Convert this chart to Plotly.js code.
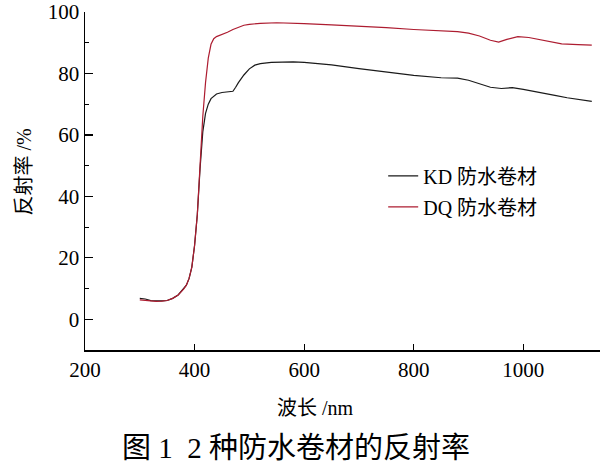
<!DOCTYPE html>
<html>
<head>
<meta charset="utf-8">
<script src="https://cdn.plot.ly/plotly-3.0.1.min.js"></script>
<style>html,body{margin:0;padding:0;background:#fff;}#chart{width:600px;height:464px;}</style>
</head>
<body>
<div id="chart"></div>
<script>
// Wavelength (nm) and reflectance (%)
const kdWavelength = [300,310,320,330,340,350,360,370,380,385,390,395,400,405,410,415,420,425,430,440,450,460,470,475,480,490,500,510,520,540,560,580,600,650,700,750,800,850,880,900,920,940,960,980,1000,1020,1040,1060,1080,1100,1125];
const kdReflect    = [6.8,6.6,6.1,6.0,6.0,6.1,6.8,7.9,9.8,11.1,13.3,17,24,34,49,61,67,70,71.8,73.3,73.8,74,74.2,75.5,77,79.5,81.5,82.7,83.2,83.6,83.8,83.8,83.6,82.8,81.6,80.4,79.4,78.6,78.5,77.8,76.6,75.5,75.1,75.4,74.8,74.2,73.5,72.8,72.1,71.5,70.9];

const dqWavelength = [300,310,320,330,340,350,360,370,380,385,390,395,400,405,410,415,420,425,430,435,440,450,460,470,480,490,500,520,550,580,600,650,700,750,800,850,880,900,920,940,955,970,990,1010,1030,1050,1070,1100,1125];
const dqReflect    = [6.3,6.1,5.9,5.8,5.9,6.1,6.8,7.9,9.8,11.1,13.3,17,24,34,50,66,77,85,89.5,91.3,92,92.6,93.4,94.3,95,95.7,96,96.3,96.5,96.4,96.2,95.8,95.4,94.9,94.3,93.8,93.6,93.1,92.2,90.8,90.2,91.1,92,91.7,91,90.3,89.6,89.4,89.2];

const seriesNames = ["KD 防水卷材", "DQ 防水卷材"];
const xTicks = [200,400,600,800,1000];
const yTicks = [0,20,40,60,80,100];

const FONT = "Liberation Serif, Times New Roman, Noto Sans CJK SC, serif";

const traces = [
  {x: kdWavelength, y: kdReflect, name: seriesNames[0], mode: "lines", type: "scatter",
   line: {color: "#1a1a1a", width: 1.2}, legendgroup: "a"},
  {x: dqWavelength, y: dqReflect, name: seriesNames[1], mode: "lines", type: "scatter",
   line: {color: "#ad1c30", width: 1.2}, legendgroup: "b"}
];

const layout = {
  width: 600, height: 464,
  margin: {l: 85, r: 0, t: 12, b: 114},
  paper_bgcolor: "#fff", plot_bgcolor: "#fff",
  font: {family: FONT, color: "#000", size: 21},
  showlegend: true,
  legend: {x: 0.579, y: 0.573, xanchor: "left", yanchor: "top", bgcolor: "rgba(0,0,0,0)",
           font: {family: FONT, size: 20, color: "#000"}, tracegroupgap: 2},
  xaxis: {range: [200, 1140], tickvals: xTicks, ticks: "inside", ticklen: 6, tickwidth: 1.2,
          tickcolor: "#000", showline: true, linecolor: "#000", linewidth: 1.5,
          showgrid: false, zeroline: false, tickfont: {family: FONT, size: 21}},
  yaxis: {range: [-10, 100], tickvals: yTicks, ticks: "inside", ticklen: 8, tickwidth: 1.2,
          tickcolor: "#000", showline: true, linecolor: "#000", linewidth: 1.5,
          showgrid: false, zeroline: false, tickfont: {family: FONT, size: 21},
          minor: {dtick: 10, tick0: 0, ticks: "inside", ticklen: 4, tickwidth: 1, tickcolor: "#000"}},
  annotations: [
    {text: "波长 /nm", xref: "paper", yref: "paper", x: 0.448, y: -0.172, xanchor: "center", yanchor: "middle",
     showarrow: false, font: {family: FONT, size: 20}},
    {text: "反射率 /%", xref: "paper", yref: "paper", x: -0.119, y: 0.527, xanchor: "center", yanchor: "middle",
     textangle: -90, showarrow: false, font: {family: FONT, size: 20}},
    {text: "图 1  2 种防水卷材的反射率", xref: "paper", yref: "paper", x: 0.409, y: -0.29, xanchor: "center", yanchor: "middle",
     showarrow: false, font: {family: FONT, size: 29}}
  ]
};

Plotly.newPlot("chart", traces, layout, {displayModeBar: false, staticPlot: true});
</script>
</body>
</html>
